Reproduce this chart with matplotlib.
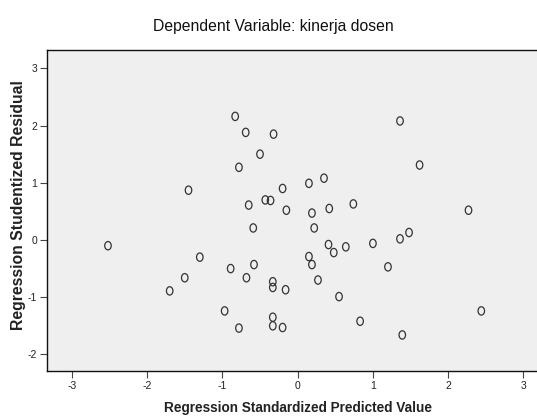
import matplotlib
matplotlib.use("Agg")
import matplotlib.pyplot as plt
from matplotlib.path import Path
from matplotlib.transforms import Affine2D
from matplotlib import font_manager

# Regression Standardized Predicted Value (x) vs Studentized Residual (y)
pred = [-2.52, -1.70, -1.50, -1.45, -1.30, -0.97, -0.89, -0.83, -0.78, -0.78,
        -0.69, -0.68, -0.65, -0.59, -0.58, -0.50, -0.43, -0.36, -0.32, -0.33,
        -0.33, -0.33, -0.33, -0.20, -0.20, -0.16, -0.15, 0.15, 0.15, 0.19,
        0.19, 0.22, 0.27, 0.35, 0.41, 0.42, 0.48, 0.55, 0.64, 0.74,
        0.83, 1.00, 1.20, 1.36, 1.36, 1.39, 1.48, 1.62, 2.27, 2.44]
resid = [-0.10, -0.89, -0.66, 0.87, -0.30, -1.24, -0.50, 2.16, 1.27, -1.54,
         1.88, -0.66, 0.61, 0.21, -0.43, 1.50, 0.70, 0.69, 1.85, -0.73,
         -0.83, -1.35, -1.50, 0.90, -1.53, -0.87, 0.52, 0.99, -0.29, 0.47,
         -0.43, 0.21, -0.70, 1.08, -0.08, 0.55, -0.22, -0.99, -0.12, 0.63,
         -1.42, -0.06, -0.47, 2.08, 0.02, -1.66, 0.13, 1.31, 0.52, -1.24]
xticks = [-3, -2, -1, 0, 1, 2, 3]
yticks = [-2, -1, 0, 1, 2, 3]

names = {f.name for f in font_manager.fontManager.ttflist}
fam = ['Liberation Sans Narrow'] if 'Liberation Sans Narrow' in names else []
fam += ['Liberation Sans', 'DejaVu Sans']
plt.rcParams['font.family'] = fam
plt.rcParams['axes.unicode_minus'] = False

fig = plt.figure(figsize=(5.37, 4.17), dpi=100)
ax = fig.add_axes([47 / 537, 1 - 371 / 417, 1 - 47 / 537, (371 - 50) / 417])
ax.set_facecolor('#efefef')

# SPSS draws the points as small upright "o" shapes
ring = Path.unit_circle().transformed(Affine2D().scale(0.78, 1.0))
ax.scatter(pred, resid, marker=ring, s=36, facecolors='none',
           edgecolors='#333333', linewidths=0.9, zorder=3)

ax.set_xlim(-3.33, 3.18)
ax.set_ylim(-2.29, 3.32)
ax.set_xticks(xticks)
ax.set_yticks(yticks)
ax.tick_params(direction='out', length=5, width=0.8, color='#444444',
               labelsize=7.5, labelcolor='#222222', pad=2)
ax.spines['right'].set_visible(False)
for s in ['left', 'top', 'bottom']:
    ax.spines[s].set_linewidth(1.0)
    ax.spines[s].set_color('#111111')

fig.text(273 / 537, 1 - 26 / 417, 'Dependent Variable: kinerja dosen',
         ha='center', va='center', fontsize=11.3, color='#111111')
fig.text(298 / 537, 1 - 408 / 417, 'Regression Standardized Predicted Value',
         ha='center', va='center', fontsize=9.8, fontweight='bold', color='#222222')
fig.text(19 / 537, 1 - 205 / 417, 'Regression Studentized Residual',
         ha='center', va='center', rotation=90, fontsize=11.3,
         fontweight='bold', color='#222222')

fig.savefig('out.png', dpi=100)
